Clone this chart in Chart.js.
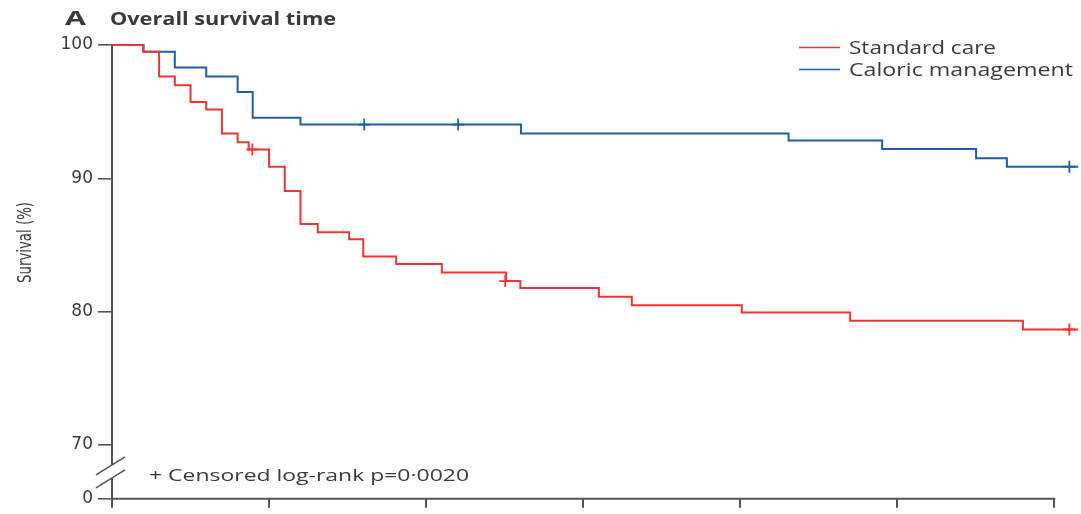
<!DOCTYPE html>
<html>
<head>
<meta charset="utf-8">
<script src="https://cdn.jsdelivr.net/npm/chart.js@4/dist/chart.umd.min.js"></script>
<style>
html,body{margin:0;padding:0;background:#fff;overflow:hidden}
canvas{display:block}
</style>
</head>
<body>
<canvas id="c" width="1081" height="514"></canvas>
<script>
// ---------- data ----------
const panelLetter = 'A';
const chartTitle = 'Overall survival time';
const yAxisTitle = 'Survival (%)';
const footnote = '+ Censored log-rank p=0\u00b70020';
const seriesNames = ['Standard care', 'Caloric management'];

const standardTimes    = [0, 1, 1.5, 2, 2.5, 3, 3.5, 4, 4.35, 5, 5.5, 6, 6.55, 7.55, 8, 9.05, 10.5, 12.55, 13, 15.5, 16.55, 20.05, 23.5, 29, 30.76];
const standardSurvival = [100, 99.5, 97.63, 96.99, 95.72, 95.17, 93.36, 92.71, 92.16, 90.87, 89.05, 86.57, 85.95, 85.43, 84.13, 83.58, 82.93, 82.29, 81.77, 81.12, 80.47, 79.93, 79.31, 78.66, 78.66];

const caloricTimes    = [0, 1, 2, 3, 4, 4.48, 6, 13.02, 21.54, 24.52, 27.51, 28.49, 30.76];
const caloricSurvival = [100, 99.5, 98.31, 97.63, 96.47, 94.55, 94.03, 93.36, 92.84, 92.19, 91.51, 90.87, 90.87];

const standardCensorTimes    = [4.47, 12.52, 30.48];
const standardCensorSurvival = [92.16, 82.29, 78.66];
const caloricCensorTimes     = [8.03, 11.02, 30.48];
const caloricCensorSurvival  = [94.03, 94.03, 90.87];

const yTickValues = [70, 80, 90, 100];
const yBreakLabel = '0';
const xTickValues = [0, 5, 10, 15, 20, 25, 30];

// ---------- styling ----------
const RED = '#ee3535';
const BLUE = '#1f5ea8';
const AXIS = '#555555';
const TEXT = '#3a3a3a';
const Y_MIN = 65.96;
const X_MAX = 30.85;

const toPoints = (xs, ys) => xs.map((t, i) => ({x: t, y: ys[i]}));

function stretchedText(ctx, text, x, y, targetWidth, o) {
  ctx.save();
  ctx.font = o.font;
  const w = ctx.measureText(text).width;
  ctx.translate(x, y);
  if (o.rotate) ctx.rotate(o.rotate);
  ctx.scale(targetWidth / w, o.sy || 1);
  ctx.textAlign = o.align || 'left';
  ctx.textBaseline = o.baseline || 'alphabetic';
  ctx.fillStyle = o.color || TEXT;
  ctx.fillText(text, 0, 0);
  ctx.restore();
}

const decor = {
  id: 'decor',
  afterDraw(chart) {
    const {ctx, chartArea, scales} = chart;
    const x = scales.x, y = scales.y;
    const left = chartArea.left, bottom = chartArea.bottom;

    // x axis line from first to last tick
    ctx.save();
    ctx.strokeStyle = AXIS;
    ctx.lineWidth = 2;
    ctx.beginPath();
    ctx.moveTo(x.getPixelForValue(xTickValues[0]) - 1, bottom);
    ctx.lineTo(x.getPixelForValue(xTickValues[xTickValues.length - 1]) + 1, bottom);
    ctx.stroke();

    // axis break on the y axis
    const gTop = y.getPixelForValue(yTickValues[0]) + 20;
    const gBot = gTop + 13;
    ctx.fillStyle = '#ffffff';
    ctx.fillRect(left - 3, gTop, 6, gBot - gTop);
    ctx.lineWidth = 1.6;
    ctx.beginPath();
    ctx.moveTo(left - 16, gTop + 10); ctx.lineTo(left + 13, gTop - 8);
    ctx.moveTo(left - 16, gTop + 23); ctx.lineTo(left + 13, gTop + 5);
    ctx.stroke();

    // legend
    const lx0 = 799, lx1 = 840, ly = [47.5, 69.5];
    const widths = [147, 224];
    chart.data.datasets.slice(0, 2).forEach((ds, i) => {
      ctx.strokeStyle = ds.borderColor;
      ctx.lineWidth = 1.5;
      ctx.beginPath();
      ctx.moveTo(lx0, ly[i]); ctx.lineTo(lx1, ly[i]);
      ctx.stroke();
      stretchedText(ctx, ds.label, 849, ly[i] + 6.5, widths[i], {font: '18px "Open Sans"'});
    });
    ctx.restore();

    // title
    stretchedText(ctx, panelLetter, 65, 25, 21, {font: 'bold 20px "Open Sans"'});
    stretchedText(ctx, chartTitle, 110, 25, 226, {font: 'bold 17px "Open Sans"'});

    // y axis title
    stretchedText(ctx, yAxisTitle, 31, 242.5, 81,
      {font: '15px "Liberation Sans Narrow", "DejaVu Sans Condensed", sans-serif', rotate: -Math.PI / 2, sy: 1.3, align: 'center'});

    // footnote
    stretchedText(ctx, footnote, 149, 480.5, 320, {font: '17px "Open Sans"'});
  }
};

new Chart(document.getElementById('c'), {
  type: 'line',
  data: {
    datasets: [
      {label: seriesNames[0], data: toPoints(standardTimes, standardSurvival), borderColor: RED, borderWidth: 2,
       stepped: true, pointRadius: 0, fill: false, clip: false},
      {label: seriesNames[1], data: toPoints(caloricTimes, caloricSurvival), borderColor: BLUE, borderWidth: 2,
       stepped: true, pointRadius: 0, fill: false, clip: false},
      {label: 'Censored (' + seriesNames[0] + ')', data: toPoints(standardCensorTimes, standardCensorSurvival), showLine: false,
       pointStyle: 'cross', pointRadius: 6, borderColor: RED, borderWidth: 1.8, clip: false},
      {label: 'Censored (' + seriesNames[1] + ')', data: toPoints(caloricCensorTimes, caloricCensorSurvival), showLine: false,
       pointStyle: 'cross', pointRadius: 6, borderColor: BLUE, borderWidth: 1.8, clip: false}
    ]
  },
  options: {
    responsive: false,
    animation: false,
    devicePixelRatio: 1,
    layout: {autoPadding: false, padding: {left: 0, top: 45, right: 0, bottom: 0}},
    plugins: {legend: {display: false}, tooltip: {enabled: false}, title: {display: false}},
    elements: {point: {hoverRadius: 6}},
    scales: {
      x: {
        type: 'linear',
        min: 0,
        max: X_MAX,
        afterBuildTicks: (s) => { s.ticks = xTickValues.map(v => ({value: v})); },
        afterFit: (s) => { s.height = 13.3; },
        ticks: {display: false},
        grid: {drawOnChartArea: false, drawTicks: true, tickLength: 9, color: AXIS, lineWidth: 2},
        border: {display: false}
      },
      y: {
        type: 'linear',
        min: Y_MIN,
        max: 100,
        afterBuildTicks: (s) => { s.ticks = [{value: Y_MIN}].concat(yTickValues.map(v => ({value: v}))); },
        afterFit: (s) => { s.width = 112; },
        ticks: {
          color: TEXT,
          padding: 5,
          font: {family: '"DejaVu Sans"', size: 17},
          callback: (v) => (v < yTickValues[0] ? yBreakLabel : String(v))
        },
        grid: {drawOnChartArea: false, drawTicks: true, tickLength: 14, color: AXIS, lineWidth: 1.6},
        border: {display: true, color: AXIS, width: 2}
      }
    }
  },
  plugins: [decor]
});
</script>
</body>
</html>
